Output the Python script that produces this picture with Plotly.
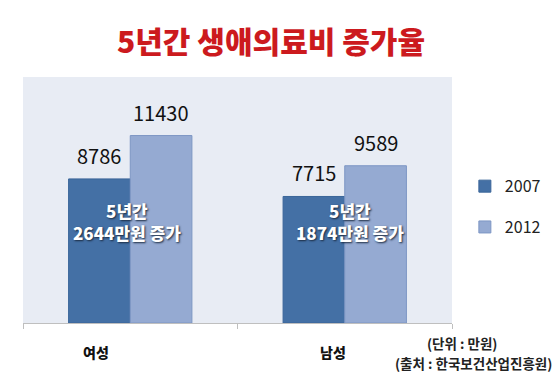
import plotly.graph_objects as go

categories = ["여성", "남성"]
series_names = ["2007", "2012"]
values_2007 = [8786, 7715]
values_2012 = [11430, 9589]
increase_notes = ["5년간<br>2644만원 증가", "5년간<br>1874만원 증가"]
title_text = "5년간 생애의료비 증가율"
unit_text = "(단위 : 만원)"
source_text = "(출처 : 한국보건산업진흥원)"

KR = "Noto Sans CJK KR"
colors = ["#4470A5", "#95AAD2"]
borders = ["#3A6599", "#7D96C4"]

fig = go.Figure()
for name, vals, c, b in zip(series_names, [values_2007, values_2012], colors, borders):
    fig.add_trace(go.Bar(
        x=categories, y=vals, name=name, legendgroup=name,
        marker=dict(color=c, line=dict(color=b, width=1)),
        hoverinfo="skip",
    ))

ann = []
# value labels above bars
bar_half = 31
for vals, shift in [(values_2007, -bar_half), (values_2012, bar_half)]:
    for cat, v in zip(categories, vals):
        ann.append(dict(x=cat, y=v, xref="x", yref="y", text=str(v), showarrow=False,
                        xshift=shift, yanchor="bottom", yshift=7,
                        font=dict(family=KR, size=20, color="#111111")))
# increase notes
for cat, note, xs in zip(categories, increase_notes, [-3, 5]):
    ann.append(dict(x=cat, y=6200, xref="x", yref="y", text=note,
                    showarrow=False, xshift=xs, yanchor="middle",
                    font=dict(family=KR, size=17, color="white", weight=900,
                              shadow="1px 1px 2px #1a2a40")))
# category labels
for cat, xs in zip(categories, [-34, -12]):
    ann.append(dict(x=cat, y=0, xref="x", yref="y", text=cat,
                    showarrow=False, xshift=xs, yanchor="middle", yshift=-29,
                    font=dict(family=KR, size=14, color="#111111", weight=900)))
# unit / source
ann.append(dict(x=468, y=343, xref="paper", yref="paper", text=unit_text,
                showarrow=False, font=dict(family=KR, size=13.5, color="#222222", weight=700)))
ann.append(dict(x=480, y=363, xref="paper", yref="paper", text=source_text,
                showarrow=False, font=dict(family=KR, size=13.5, color="#222222", weight=700)))
# title
ann.append(dict(x=274, y=40, xref="paper", yref="paper", text=title_text,
                showarrow=False, font=dict(family=KR, size=30, color="#CC1A1E", weight=900)))

# convert pixel positions for paper annotations
L, R, T, B, W, H = 23, 100, 77, 50, 558, 373
pw, ph = W - L - R, H - T - B
for a in ann:
    if a["xref"] == "paper":
        a["x"] = (a["x"] - L) / pw
        a["y"] = (H - B - a["y"]) / ph
        a["yanchor"] = "middle"
        a["xanchor"] = "center"

fig.update_layout(
    width=W, height=H,
    margin=dict(l=L, r=R, t=T, b=B),
    paper_bgcolor="white",
    plot_bgcolor="#E8ECF4",
    barmode="group",
    bargap=0.425,
    bargroupgap=0,
    showlegend=True,
    legend=dict(x=1.03, xanchor="left", y=0.625, yanchor="top",
                font=dict(family=KR, size=16, color="#222222"),
                tracegroupgap=17, itemwidth=30, bgcolor="rgba(0,0,0,0)"),
    annotations=ann,
    xaxis=dict(showline=True, linecolor="#BFBFBF", linewidth=1, ticks="outside",
               tickson="boundaries", ticklen=5, tickcolor="#BFBFBF",
               showticklabels=False, showgrid=False, zeroline=False),
    yaxis=dict(range=[0, 15000], visible=False, showgrid=False, zeroline=False),
)
fig.write_html("out.html", config={"displayModeBar": False},
               post_script="document.body.style.margin='0';")
